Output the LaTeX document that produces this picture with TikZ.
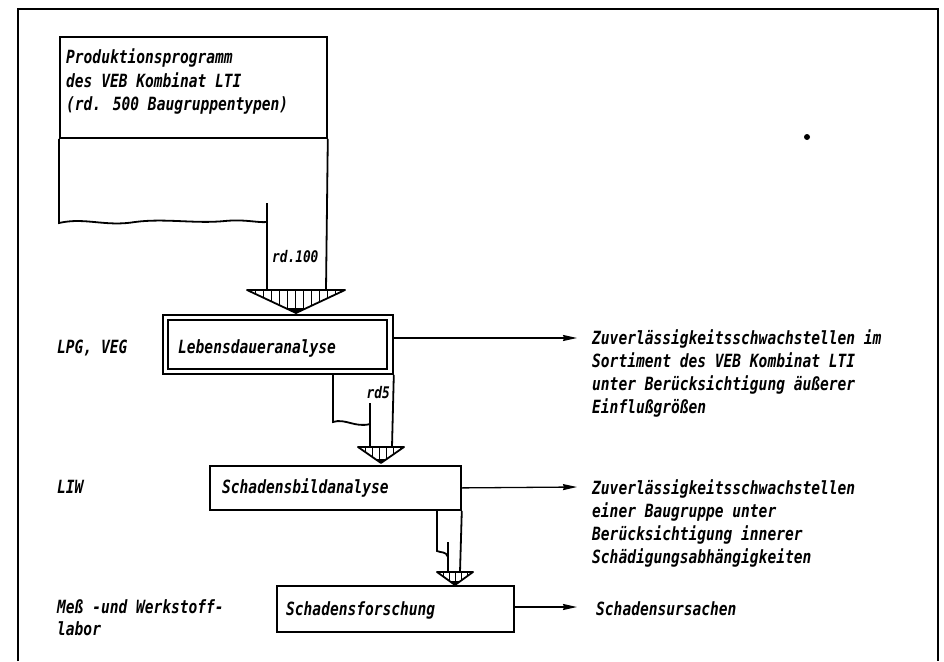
\documentclass[tikz,border=0pt]{standalone}
\usepackage{fontspec}
\newfontfamily\lett{DejaVu Sans Mono}[FakeStretch=0.8]
\usetikzlibrary{arrows.meta}
\begin{document}
\begin{tikzpicture}[x=1pt,y=-1pt,
  lbl/.style={font=\lett\bfseries\itshape\fontsize{18.2}{23.3}\selectfont, inner sep=0pt, align=left},
  small/.style={font=\lett\bfseries\itshape\fontsize{16}{18}\selectfont, inner sep=0pt},
  boxline/.style={line width=1.8pt},
  flowbox/.style={draw, line width=1.8pt, inner sep=0pt, anchor=north west},
  arr/.style={line width=1.3pt, -{Stealth[length=14pt,width=6pt,inset=1pt]}},
  hatch/.style={line width=1pt},
]
\useasboundingbox (0,0) rectangle (944,661);

% frame
\draw[line width=1.5pt] (18,661) -- (18,9) -- (938,9) -- (938,661);
\fill (807,137) circle (3);

% production programme
\node[flowbox, minimum width=267pt, minimum height=101pt] (prod) at (59,36) {};
\node[lbl, anchor=north west] (prodtxt) at (66,49) {Produktionsprogramm\\des VEB Kombinat LTI\\(rd. 500 Baugruppentypen)};
\draw[boxline] (prod.south west) -- (59,223) .. controls (85,217) and (105,227) .. (135,222) .. controls (165,218) and (195,224) .. (225,221) .. controls (245,219) and (258,223) .. (267,222);
\draw[boxline] (prod.south east) -- (326,290);
\draw[boxline] (267,203) -- (267,290);
\node[small, anchor=base west] (rd100) at (272,262) {rd.100};

% triangle 1
\coordinate (t1l) at (247,290);
\coordinate (t1r) at (345,290);
\coordinate (t1a) at (296,313);
\begin{scope}
\clip (t1l) -- (t1r) -- (t1a) -- cycle;
\foreach \x in {255,263,...,340} \draw[hatch] (\x,290) -- (\x,314);
\fill (286,308) -- (306,308) -- (296,314) -- cycle;
\end{scope}
\draw[boxline, line join=round] (t1l) -- (t1r) -- (t1a) -- cycle;

% Lebensdaueranalyse
\node[flowbox, minimum width=230pt, minimum height=59pt] (lda) at (162,314) {};
\draw[line width=1.5pt] ([shift={(6,6)}]lda.north west) rectangle ([shift={(-7,-6)}]lda.south east);
\node[lbl, anchor=base west] (ldatxt) at (178,353) {Lebensdaueranalyse};
\node[lbl, anchor=base west] (lpg) at (57,353) {LPG, VEG};
\coordinate (e1) at (577,338);
\draw[arr] (lda.east |- e1) -- (e1);
\node[lbl, anchor=north west] (out1) at (592,329) {Zuverlässigkeitsschwachstellen im\\Sortiment des VEB Kombinat LTI\\unter Berücksichtigung äußerer\\Einflußgrößen};

% band 2
\draw[boxline] (333,373) -- (333,422) .. controls (345,418) and (355,428) .. (370,424);
\draw[boxline] (370,403) -- (370,447);
\draw[boxline] (lda.south east) -- (392,447);
\node[small, anchor=base east] (rd5) at (390,398) {rd5};

% triangle 2
\coordinate (t2l) at (358,447);
\coordinate (t2r) at (404,447);
\coordinate (t2a) at (381,463);
\begin{scope}
\clip (t2l) -- (t2r) -- (t2a) -- cycle;
\foreach \x in {365,372,...,400} \draw[hatch] (\x,447) -- (\x,464);
\fill (374,459) -- (388,459) -- (381,464) -- cycle;
\end{scope}
\draw[boxline, line join=round] (t2l) -- (t2r) -- (t2a) -- cycle;

% Schadensbildanalyse
\node[flowbox, minimum width=251pt, minimum height=44pt] (sba) at (209,465) {};
\node[lbl, anchor=base west] (sbatxt) at (222,493) {Schadensbildanalyse};
\node[lbl, anchor=base west] (liw) at (57,493) {LIW};
\coordinate (e2) at (577,487);
\draw[arr] (sba.east) -- (e2);
\node[lbl, anchor=north west] (out2) at (592,479) {Zuverlässigkeitsschwachstellen\\einer Baugruppe unter\\Berücksichtigung innerer\\Schädigungsabhängigkeiten};

% band 3
\draw[boxline] (437,509) -- (437,551) .. controls (441,553) and (446,551) .. (448,557);
\draw[boxline] (448,542) -- (448,572);
\draw[boxline] (sba.south east) -- (460,572);

% triangle 3
\coordinate (t3l) at (437,572);
\coordinate (t3r) at (473,572);
\coordinate (t3a) at (455,585);
\begin{scope}
\clip (t3l) -- (t3r) -- (t3a) -- cycle;
\foreach \x in {443,449,...,468} \draw[hatch] (\x,572) -- (\x,586);
\fill (449,581) -- (461,581) -- (455,586) -- cycle;
\end{scope}
\draw[boxline, line join=round] (t3l) -- (t3r) -- (t3a) -- cycle;

% Schadensforschung
\node[flowbox, minimum width=237pt, minimum height=46pt] (sfo) at (276,585) {};
\node[lbl, anchor=base west] (sfotxt) at (286,615) {Schadensforschung};
\node[lbl, anchor=north west, font=\lett\bfseries\itshape\fontsize{18.2}{22}\selectfont] (mw) at (57,599) {Meß -und Werkstoff-\\labor};
\coordinate (e3) at (577,607);
\draw[arr] (sfo.east |- e3) -- (e3);
\node[lbl, anchor=base west] (out3) at (596,615) {Schadensursachen};
\end{tikzpicture}
\end{document}
